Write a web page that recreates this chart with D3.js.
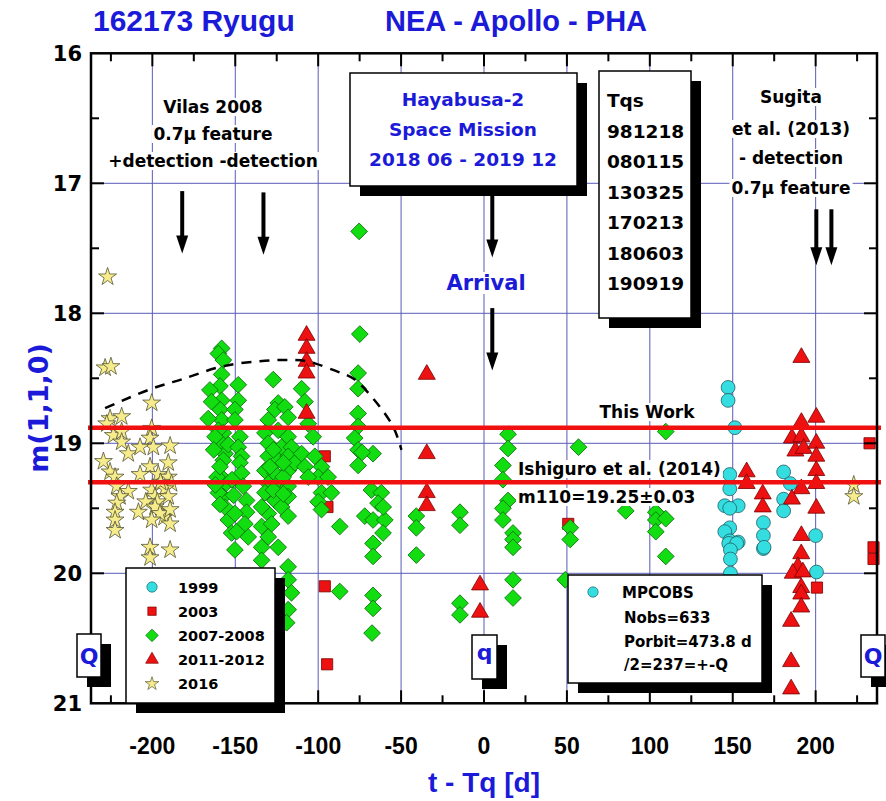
<!DOCTYPE html>
<html>
<head>
<meta charset="utf-8">
<script src="https://cdn.jsdelivr.net/npm/d3@7"></script>
<style>
  body { margin: 0; background: #fff; }
  svg { display: block; }
</style>
</head>
<body>
<div id="chart"></div>
<script>
// ---- data: [t - Tq (days), m(1,1,0)] ----
const obs1999 = [
  [147.2,18.57],[147.2,18.67],[151.3,18.88],[148.2,19.24],[148.2,19.35],[145.2,19.48],[153.3,19.48],
  [148.2,19.50],[148.2,19.65],[145.2,19.68],[148.2,19.75],[153.3,19.76],[180.7,19.22],[184.7,19.31],
  [180.7,19.43],[180.7,19.52],[200,19.71],[168.5,19.61],[168.5,19.71],[168.5,19.81],[147.6,19.77],
  [152.4,19.77],[148.6,19.82],[148.6,19.89],[168.9,19.80],[148.6,20.0],[200.5,19.99]
];
const obs2003 = [
  [-96,19.10],[-94.4,19.49],[-96,20.10],[-94.6,20.70],[50.8,19.62],[232.5,19.0],[234.9,19.80],
  [234.9,19.89],[200.8,20.11]
];
const obs2007 = [
  [-158.2,18.27],[-160.2,18.31],[-157.2,18.36],[-158.2,18.47],[-159.2,18.56],[-158.2,18.67],[-159.2,18.74],
  [-158.2,18.82],[-157.2,18.92],[-158.2,19.00],[-156.2,19.08],[-157.2,19.13],[-158.2,19.26],[-157.2,19.33],
  [-157.2,19.41],[-156.2,19.49],[-154.2,19.59],[-152.2,19.69],[-150.2,19.82],
  [-165.3,18.59],[-164.3,18.68],[-166.3,18.81],[-160.2,18.90],[-162.2,18.95],[-154.2,19.01],[-161,19.26],
  [-159.2,19.18],[-160.2,19.38],[-159.2,19.47],[-163,19.05],[-162,19.32],
  [-148.2,18.55],[-148.2,18.67],[-150.2,18.74],[-150.2,18.82],[-147.2,18.95],[-148.2,19.03],[-146.2,19.10],
  [-147.2,19.15],[-146.2,19.23],[-145.2,19.33],[-143.2,19.44],[-143.2,19.53],[-144.2,19.62],[-142.2,19.72],
  [-149.2,19.68],[-150.2,19.54],[-152,19.28],[-151,19.40],
  [-127.1,18.51],[-124.1,18.69],[-126.1,18.74],[-120.1,18.72],[-118.1,18.80],[-130.1,18.82],[-132.1,18.92],
  [-124.1,18.90],[-118.1,18.95],[-130.1,19.00],[-122.1,19.03],[-116.1,19.03],[-130.1,19.10],[-124.1,19.13],
  [-118.1,19.10],[-132.1,19.21],[-126.1,19.23],[-118.1,19.21],[-114.0,19.15],[-130.1,19.31],[-124.1,19.31],
  [-118.1,19.33],[-132.1,19.38],[-126.1,19.44],[-118.1,19.41],[-122.1,19.49],[-130.1,19.54],[-118.1,19.56],
  [-134.1,19.64],[-128.1,19.62],[-130.1,19.72],[-124.1,19.80],[-134.1,19.80],[-134.1,19.90],[-118.1,19.95],
  [-118.1,20.05],[-116.1,20.15],[-118.1,20.28],[-119,20.38],[-129.1,19.18],[-121.1,19.26],[-134.1,19.49],
  [-127,19.05],[-121,19.15],[-127,19.36],[-121,19.39],
  [-110,18.58],[-108,18.68],[-106,18.85],[-103,18.95],[-110,19.08],[-102,19.10],[-98,19.18],[-108,19.18],
  [-100,19.26],[-94,19.26],[-98,19.38],[-92,19.38],[-100,19.45],[-98,19.51],[-106,19.26],
  [-87,19.64],[-87,20.14],
  [-75.3,17.37],[-74.9,18.16],[-75.9,18.46],[-75.9,18.58],[-75.9,18.77],[-75.9,18.87],[-78,18.96],
  [-75.9,19.05],[-75.9,19.17],[-66.9,19.08],[-71.9,19.56],[-73.5,19.07],
  [-67.9,19.36],[-61.9,19.38],[-63.9,19.46],[-66.9,19.59],[-59.8,19.59],[-60.9,19.69],[-66.9,19.77],
  [-66.9,19.87],[-66.9,20.17],[-66.9,20.27],[-67.5,20.46],[-60.8,19.49],
  [-40.8,19.56],[-40.8,19.65],[-40.8,19.86],
  [-14.5,19.53],[-14.5,19.63],[-14.5,20.23],[-14.5,20.32],
  [11.4,19.17],[11.4,19.28],[14.5,19.44],[11.4,19.50],[11.4,19.59],[17.5,19.69],[17.5,19.74],[17.5,19.80],
  [17.5,20.05],[17.5,20.19],[14.5,18.93],[14.5,19.04],
  [57,19.03],[52,19.65],[52,19.74],[49,20.05],
  [109.6,18.91],[85.5,19.52],[103.6,19.53],[103.6,19.59],[109.6,19.58],[103.6,19.68],[109.6,19.87]
];
const obs2011 = [
  [-107,18.17],[-107,18.27],[-107,18.37],[-107,18.46],[-107,18.77],
  [-34.5,18.47],[-34.5,19.08],[-34.5,19.38],[-34.5,19.48],
  [-2.4,20.09],[-2.4,20.30],
  [191.4,18.34],[200.4,18.80],[191.4,18.84],[185.7,18.96],[191.4,18.95],[187.8,19.06],[192.8,19.04],
  [200.4,19.00],[200.4,19.10],[200.4,19.21],[200.4,19.31],[191.4,19.35],[185.7,19.43],[200.4,19.50],
  [158.4,19.22],[158.4,19.31],[168.1,19.39],[168.1,19.49],[191.4,19.71],[191.3,19.85],
  [189.3,19.95],[186.2,20.00],[192.3,19.99],[191.3,20.11],[191.3,20.16],[191.3,20.26],[185.2,20.37],
  [185.2,20.68],[185.2,20.89]
];
const obs2016 = [
  [-227,17.72],[-228.5,18.42],[-225,18.41],[-200.4,18.69],
  [-225.5,18.81],[-218.5,18.795],[-227.5,18.85],
  [-223.5,18.94],[-218.5,18.91],[-218.5,18.99],[-200.4,18.885],[-201.4,18.96],[-199.4,19.03],
  [-214.5,19.08],[-207.4,19.03],[-189.3,19.02],
  [-229.5,19.14],[-225.5,19.22],[-201.4,19.18],[-190.4,19.15],[-207.4,19.24],[-196.4,19.24],[-190.4,19.26],
  [-222.5,19.26],[-221.5,19.33],[-214.5,19.37],[-219.5,19.41],[-188.4,19.31],[-200.4,19.36],[-192.4,19.35],
  [-198.4,19.41],[-190.4,19.41],[-195,19.30],[-197,19.45],[-193,19.57],[-204,19.45],
  [-221.5,19.46],[-222.5,19.53],[-208.4,19.53],[-198.4,19.49],[-195.4,19.54],[-189.3,19.51],[-200.4,19.59],
  [-189.3,19.62],[-222.5,19.59],[-222.5,19.67],
  [-201.4,19.80],[-189.3,19.82],[-201.4,19.88],
  [223,19.32],[223,19.41]
];
// dashed trend curve
const trendCurve = [
  [-228.5,18.73],[-200.4,18.58],[-180.3,18.50],[-158.2,18.41],[-132.1,18.365],[-114,18.36],[-102,18.385],
  [-88,18.45],[-77.9,18.51],[-67.9,18.64],[-59.8,18.77],[-53.8,18.90],[-49.8,19.05]
];
const thisWork = 18.88;
const ishiguro = 19.30;

const xTicks = d3.range(-225, 226, 25);
const xLabels = [-200, -150, -100, -50, 0, 50, 100, 150, 200];
const yTicks = d3.range(16.5, 21, 0.5);
const yLabels = [16, 17, 18, 19, 20, 21];

const legendNames = ['1999', '2003', '2007-2008', '2011-2012', '2016'];
const tqsList = ['Tqs', '981218', '080115', '130325', '170213', '180603', '190919'];

// ---- layout ----
const W = 886, H = 801;
const pL = 91, pR = 877, pT = 53.3, pB = 703.3;
const BLUE = '#1a1ad8';
const GRID = '#5a5ab8';
const BOLD = '"DejaVu Sans", Verdana, sans-serif';
const ARIAL = '"Liberation Sans", Arial, sans-serif';

const svg = d3.select('#chart').append('svg')
  .attr('width', W).attr('height', H);

const x = d3.scaleLinear().domain([-237, 237]).range([pL, pR]);
const y = d3.scaleLinear().domain([16, 21]).range([pT, pB]);

// grid
svg.append('g').selectAll('line')
  .data(xLabels).enter().append('line')
  .attr('x1', d => x(d)).attr('x2', d => x(d))
  .attr('y1', pT).attr('y2', pB)
  .attr('stroke', GRID).attr('stroke-width', 1);
svg.append('g').selectAll('line')
  .data([17, 18, 19, 20]).enter().append('line')
  .attr('x1', pL).attr('x2', pR)
  .attr('y1', d => y(d)).attr('y2', d => y(d))
  .attr('stroke', GRID).attr('stroke-width', 1);

// ---- markers ----
const symCircle = d3.symbol().type(d3.symbolCircle);
const symSquare = d3.symbol().type(d3.symbolSquare);
const symTri = d3.symbol().type(d3.symbolTriangle);
const symStar = d3.symbol().type(d3.symbolStar);

const series = [
  {data: obs1999, path: symCircle.size(150)(), fill: '#33dde0', stroke: '#1f5f66', rot: 0},
  {data: obs2003, path: symSquare.size(125)(), fill: '#ee1111', stroke: '#7a0000', rot: 0},
  {data: obs2007, path: symSquare.size(140)(), fill: '#11dd11', stroke: '#0a6a0a', rot: 45},
  {data: obs2011, path: symTri.size(125)(), fill: '#ee1111', stroke: '#7a0000', rot: 0},
  {data: obs2016, path: symStar.size(100)(), fill: '#f7ec8c', stroke: '#555533', rot: 0}
];

const pts = svg.append('g');
series.forEach(s => {
  pts.append('g').selectAll('path')
    .data(s.data).enter().append('path')
    .attr('d', s.path)
    .attr('transform', d => `translate(${x(d[0])},${y(d[1])}) rotate(${s.rot})`)
    .attr('fill', s.fill)
    .attr('stroke', s.stroke)
    .attr('stroke-width', 0.8);
});

// dashed curve
svg.append('path')
  .datum(trendCurve)
  .attr('d', d3.line().x(d => x(d[0])).y(d => y(d[1])).curve(d3.curveNatural))
  .attr('fill', 'none').attr('stroke', '#000')
  .attr('stroke-width', 2.5).attr('stroke-dasharray', '10,8');

// red reference lines
svg.append('g').selectAll('line')
  .data([thisWork, ishiguro]).enter().append('line')
  .attr('x1', pL - 3).attr('x2', pR + 4)
  .attr('y1', d => y(d)).attr('y2', d => y(d))
  .attr('stroke', '#f01010').attr('stroke-width', 4.5);

// ---- frame and ticks ----
svg.append('rect')
  .attr('x', pL).attr('y', pT)
  .attr('width', pR - pL).attr('height', pB - pT)
  .attr('fill', 'none').attr('stroke', '#000').attr('stroke-width', 2.5);

const tickG = svg.append('g').attr('stroke', '#000').attr('stroke-width', 2);
xTicks.forEach(t => {
  const len = t % 50 === 0 ? 13 : 8;
  tickG.append('line').attr('x1', x(t)).attr('x2', x(t)).attr('y1', pB).attr('y2', pB - len);
  tickG.append('line').attr('x1', x(t)).attr('x2', x(t)).attr('y1', pT).attr('y2', pT + len);
});
yTicks.forEach(m => {
  const len = m % 1 === 0 ? 13 : 8;
  tickG.append('line').attr('x1', pL).attr('x2', pL + len).attr('y1', y(m)).attr('y2', y(m));
  tickG.append('line').attr('x1', pR).attr('x2', pR - len).attr('y1', y(m)).attr('y2', y(m));
});

svg.append('g').selectAll('text')
  .data(xLabels).enter().append('text')
  .attr('x', d => x(d)).attr('y', 754)
  .attr('text-anchor', 'middle')
  .style('font-family', ARIAL).style('font-weight', 'bold').style('font-size', '23px')
  .text(d => d);

svg.append('g').selectAll('text')
  .data(yLabels).enter().append('text')
  .attr('x', 82).attr('y', d => y(d) + 7.5)
  .attr('text-anchor', 'end')
  .style('font-family', BOLD).style('font-weight', 'bold').style('font-size', '21px')
  .text(d => d);

// axis titles
svg.append('text')
  .attr('x', 484).attr('y', 792).attr('text-anchor', 'middle')
  .style('font-family', ARIAL).style('font-weight', 'bold').style('font-size', '28px')
  .attr('fill', BLUE).text('t - Tq [d]');
svg.append('text')
  .attr('transform', 'translate(48,408) rotate(-90)')
  .attr('text-anchor', 'middle')
  .style('font-family', BOLD).style('font-weight', 'bold').style('font-size', '27px')
  .attr('fill', BLUE).text('m(1,1,0)');

// title
svg.append('text').attr('x', 93).attr('y', 31)
  .style('font-family', ARIAL).style('font-weight', 'bold').style('font-size', '30px')
  .attr('fill', BLUE).text('162173 Ryugu');
svg.append('text').attr('x', 385).attr('y', 31)
  .style('font-family', ARIAL).style('font-weight', 'bold').style('font-size', '29px')
  .attr('fill', BLUE).text('NEA - Apollo - PHA');

// ---- annotation helpers ----
function label(g, txt, px, py, size, color, anchor, bg) {
  const t = g.append('text')
    .attr('x', px).attr('y', py)
    .attr('text-anchor', anchor || 'middle')
    .style('font-family', BOLD).style('font-weight', 'bold').style('font-size', size + 'px')
    .attr('fill', color).text(txt);
  if (bg) {
    const b = t.node().getBBox();
    g.insert('rect', () => t.node())
      .attr('x', b.x - 2).attr('y', b.y + 1).attr('width', b.width + 4).attr('height', b.height - 2)
      .attr('fill', '#fff');
  }
  return t;
}
function box(g, bx, by, bw, bh) {
  g.append('rect').attr('x', bx + 10).attr('y', by + 10).attr('width', bw).attr('height', bh).attr('fill', '#000');
  g.append('rect').attr('x', bx).attr('y', by).attr('width', bw).attr('height', bh)
    .attr('fill', '#fff').attr('stroke', '#000').attr('stroke-width', 1.5);
}
function arrow(g, t, m0, m1) {
  const ax = x(t), y0 = y(m0), y1 = y(m1);
  g.append('line').attr('x1', ax).attr('x2', ax).attr('y1', y0).attr('y2', y1 - 14)
    .attr('stroke', '#000').attr('stroke-width', 4);
  g.append('path').attr('d', `M${ax - 6},${y1 - 18} L${ax + 6},${y1 - 18} L${ax},${y1} Z`).attr('fill', '#000');
}

const ann = svg.append('g');

// Vilas 2008
label(ann, 'Vilas 2008', 213, 113, 17, '#000', 'middle', true);
label(ann, '0.7\u03bc feature', 213, 140, 17, '#000', 'middle', true);
label(ann, '+detection -detection', 213, 167, 17, '#000', 'middle', true);
arrow(ann, -182, 17.06, 17.54);
arrow(ann, -133, 17.07, 17.55);

// Hayabusa box
box(ann, 350, 73, 227, 113);
label(ann, 'Hayabusa-2', 463, 106, 18.5, BLUE);
label(ann, 'Space Mission', 463, 136, 18.5, BLUE);
label(ann, '2018 06 - 2019 12', 463, 166, 18.5, BLUE);
arrow(ann, 5, 17.07, 17.57);
label(ann, 'Arrival', 486, 290, 21, BLUE, 'middle', true);
arrow(ann, 5, 17.96, 18.44);

// Tqs box
box(ann, 599, 71, 92, 247);
tqsList.forEach((s, i) => label(ann, s, 607, 107 + i * 30.5, 18.5, '#000', 'start'));

// Sugita
label(ann, 'Sugita', 791, 103, 17, '#000', 'middle', true);
label(ann, 'et al. (2013)', 791, 135, 17, '#000', 'middle', true);
label(ann, '- detection', 791, 164, 17, '#000', 'middle', true);
label(ann, '0.7\u03bc feature', 791, 194, 17, '#000', 'middle', true);
arrow(ann, 200.4, 17.2, 17.63);
arrow(ann, 209.5, 17.2, 17.63);

// reference-line labels
label(ann, 'This Work', 647, 418, 17, '#000', 'middle', true);
label(ann, 'Ishiguro et al. (2014)', 518, 475, 17, '#000', 'start', true);
label(ann, 'm110=19.25\u00b10.03', 518, 503, 17, '#000', 'start', true);

// legend
box(ann, 126, 568, 149, 135);
series.forEach((s, i) => {
  const ly = 587 + i * 24.2;
  ann.append('path')
    .attr('d', s.path)
    .attr('transform', `translate(152,${ly}) rotate(${s.rot}) scale(0.75)`)
    .attr('fill', s.fill).attr('stroke', s.stroke).attr('stroke-width', 0.9);
  label(ann, legendNames[i], 178, ly + 5.5, 14.5, '#000', 'start');
});

// MPCOBS box
box(ann, 568, 575, 194, 108);
ann.append('path').attr('d', series[0].path)
  .attr('transform', 'translate(593,592) scale(0.75)')
  .attr('fill', series[0].fill).attr('stroke', series[0].stroke).attr('stroke-width', 0.9);
label(ann, 'MPCOBS', 622, 598, 15, '#000', 'start');
label(ann, 'Nobs=633', 624, 623, 15, '#000', 'start');
label(ann, 'Porbit=473.8 d', 624, 647, 15, '#000', 'start');
label(ann, '/2=237=+-Q', 624, 670, 15, '#000', 'start');

// Q / q markers
box(ann, 77, 634, 24, 43);
label(ann, 'Q', 89, 664, 22, BLUE);
box(ann, 472, 635, 25, 44);
label(ann, 'q', 484.5, 660, 22, BLUE);
box(ann, 861, 635, 24, 42);
label(ann, 'Q', 873, 664, 22, BLUE);
</script>
</body>
</html>
